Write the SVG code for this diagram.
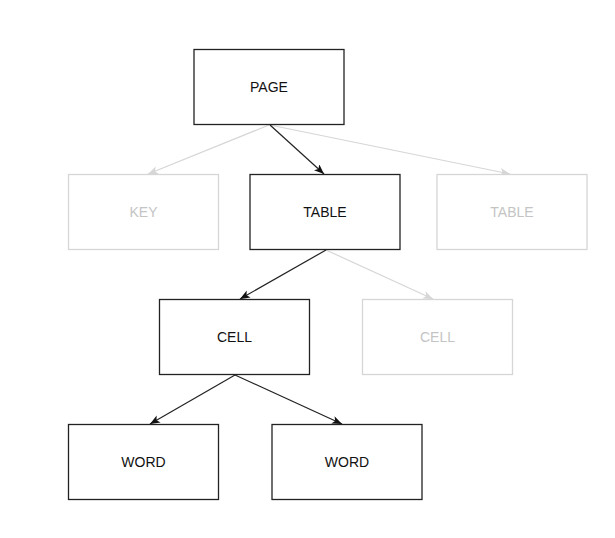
<svg xmlns="http://www.w3.org/2000/svg" width="615" height="538" viewBox="0 0 615 538">
<defs>
<style>
.box{fill:#ffffff;stroke:#222222;stroke-width:1.3}
.box.dim{stroke:#d6d6d6}
.lbl{font-family:"Liberation Sans",Arial,sans-serif;font-size:14px;fill:#111111;text-anchor:middle;dominant-baseline:central}
.lbl.dim{fill:#c4c4c4}
.edge{fill:none;stroke:#222222;stroke-width:1.2}
.edge.dim{stroke:#d6d6d6}
</style>
<marker id="ah" markerUnits="userSpaceOnUse" markerWidth="11" markerHeight="9" refX="10" refY="4" orient="auto" viewBox="0 0 11 9">
<path d="M0,0 L10,4 L0,8 L2.5,4 z" fill="#111111"/>
</marker>
<marker id="ahd" markerUnits="userSpaceOnUse" markerWidth="11" markerHeight="9" refX="10" refY="4" orient="auto" viewBox="0 0 11 9">
<path d="M0,0 L10,4 L0,8 L2.5,4 z" fill="#d6d6d6"/>
</marker>
</defs>
<rect width="615" height="538" fill="#ffffff"/>
<g id="connectors">
<line class="edge dim" x1="269" y1="125" x2="148" y2="174" marker-end="url(#ahd)"/>
<line class="edge dim" x1="270" y1="125" x2="510" y2="174" marker-end="url(#ahd)"/>
<line class="edge dim" x1="326" y1="250" x2="433" y2="299" marker-end="url(#ahd)"/>
<line class="edge" x1="270" y1="125" x2="324" y2="174" marker-end="url(#ah)"/>
<line class="edge" x1="326" y1="250" x2="240" y2="299" marker-end="url(#ah)"/>
<line class="edge" x1="235" y1="375" x2="150" y2="424" marker-end="url(#ah)"/>
<line class="edge" x1="235" y1="375" x2="342" y2="424" marker-end="url(#ah)"/>
</g>
<g id="node-page"><rect class="box" x="194" y="49.5" width="150" height="75"/><text class="lbl" x="269" y="87">PAGE</text></g>
<g id="node-key"><rect class="box dim" x="68.5" y="174.5" width="150" height="75"/><text class="lbl dim" x="143.5" y="212">KEY</text></g>
<g id="node-table"><rect class="box" x="250" y="174.5" width="150" height="75"/><text class="lbl" x="325" y="212">TABLE</text></g>
<g id="node-table2"><rect class="box dim" x="437" y="174.5" width="150" height="75"/><text class="lbl dim" x="512" y="212">TABLE</text></g>
<g id="node-cell"><rect class="box" x="159.5" y="299.5" width="150" height="75"/><text class="lbl" x="234.5" y="337">CELL</text></g>
<g id="node-cell2"><rect class="box dim" x="362.5" y="299.5" width="150" height="75"/><text class="lbl dim" x="437.5" y="337">CELL</text></g>
<g id="node-word1"><rect class="box" x="68.5" y="424.5" width="150" height="75"/><text class="lbl" x="143.5" y="462">WORD</text></g>
<g id="node-word2"><rect class="box" x="272" y="424.5" width="150" height="75"/><text class="lbl" x="347" y="462">WORD</text></g>
</svg>
